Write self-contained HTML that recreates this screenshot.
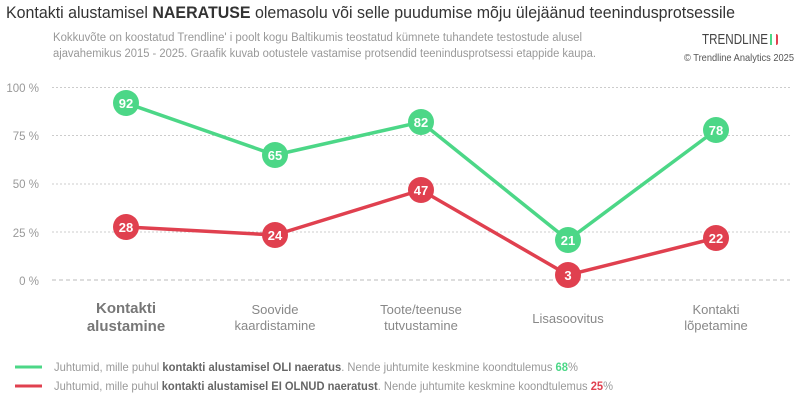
<!DOCTYPE html>
<html><head><meta charset="utf-8"><style>
html,body{margin:0;padding:0;background:#fff;}
svg{display:block;font-family:"Liberation Sans",sans-serif;}
</style></head><body>
<svg width="800" height="401" viewBox="0 0 800 401" xmlns="http://www.w3.org/2000/svg">
<text x="6" y="18" font-size="17" fill="#333" textLength="729" lengthAdjust="spacingAndGlyphs">Kontakti alustamisel <tspan font-weight="bold">NAERATUSE</tspan> olemasolu või selle puudumise mõju ülejäänud teenindusprotsessile</text>
<text x="53" y="41" font-size="11.5" fill="#999" textLength="529" lengthAdjust="spacingAndGlyphs">Kokkuvõte on koostatud Trendline' i poolt kogu Baltikumis teostatud kümnete tuhandete testostude alusel</text>
<text x="53" y="57" font-size="11.5" fill="#999" textLength="543" lengthAdjust="spacingAndGlyphs">ajavahemikus 2015 - 2025. Graafik kuvab ootustele vastamise protsendid teenindusprotsessi etappide kaupa.</text>
<text x="702" y="44" font-size="15" fill="#444" textLength="66" lengthAdjust="spacingAndGlyphs">TRENDLINE</text>
<rect x="770" y="34" width="8" height="11" rx="2" fill="#e0404f"/><rect x="772" y="34" width="4" height="11" fill="#fff"/><rect x="770" y="34" width="2" height="11" fill="#4cd787"/>
<text x="684" y="61" font-size="10.5" fill="#555" textLength="110" lengthAdjust="spacingAndGlyphs">© Trendline Analytics 2025</text>
<g font-size="11.5" fill="#999" text-anchor="end">
<text x="39" y="92">100 %</text><text x="39" y="140">75 %</text><text x="39" y="188">50 %</text><text x="39" y="237">25 %</text><text x="39" y="285">0 %</text>
</g>
<g stroke="#ccc" stroke-width="1" stroke-dasharray="2,2">
<line x1="52" y1="87.5" x2="790" y2="87.5"/><line x1="52" y1="135.5" x2="790" y2="135.5"/><line x1="52" y1="184" x2="790" y2="184"/><line x1="52" y1="232" x2="790" y2="232"/>
</g>
<line x1="52" y1="280" x2="790" y2="280" stroke="#bbb" stroke-dasharray="4,3"/>
<polyline points="126,103 275,155 421,122 568,240 716,130" fill="none" stroke="#4cd787" stroke-width="3.5"/>
<polyline points="126,227 275,235 421,190 568,275 716,238" fill="none" stroke="#e0404f" stroke-width="3.5"/>
<g font-size="13" font-weight="bold" fill="#fff" text-anchor="middle">
<circle cx="126" cy="103" r="13" fill="#4cd787"/><text x="126" y="108">92</text>
<circle cx="275" cy="155" r="13" fill="#4cd787"/><text x="275" y="160">65</text>
<circle cx="421" cy="122" r="13" fill="#4cd787"/><text x="421" y="127">82</text>
<circle cx="568" cy="240" r="13" fill="#4cd787"/><text x="568" y="245">21</text>
<circle cx="716" cy="130" r="13" fill="#4cd787"/><text x="716" y="135">78</text>
<circle cx="126" cy="227" r="13" fill="#e0404f"/><text x="126" y="232">28</text>
<circle cx="275" cy="235" r="13" fill="#e0404f"/><text x="275" y="240">24</text>
<circle cx="421" cy="190" r="13" fill="#e0404f"/><text x="421" y="195">47</text>
<circle cx="568" cy="275" r="13" fill="#e0404f"/><text x="568" y="280">3</text>
<circle cx="716" cy="238" r="13" fill="#e0404f"/><text x="716" y="243">22</text>
</g>
<g text-anchor="middle" fill="#888" font-size="13">
<text x="126" y="313" font-size="15" font-weight="bold" fill="#777">Kontakti</text>
<text x="126" y="331" font-size="15" font-weight="bold" fill="#777">alustamine</text>
<text x="275" y="314">Soovide</text><text x="275" y="330">kaardistamine</text>
<text x="421" y="314">Toote/teenuse</text><text x="421" y="330">tutvustamine</text>
<text x="568" y="323">Lisasoovitus</text>
<text x="716" y="314">Kontakti</text><text x="716" y="330">lõpetamine</text>
</g>
<line x1="15" y1="367" x2="42" y2="367" stroke="#4cd787" stroke-width="3"/>
<line x1="15" y1="386" x2="42" y2="386" stroke="#e0404f" stroke-width="3"/>
<text x="54" y="371" font-size="12" fill="#999" textLength="524" lengthAdjust="spacingAndGlyphs">Juhtumid, mille puhul <tspan font-weight="bold" fill="#666">kontakti alustamisel OLI naeratus</tspan>. Nende juhtumite keskmine koondtulemus <tspan font-weight="bold" fill="#4cd787">68</tspan>%</text>
<text x="54" y="390" font-size="12" fill="#999" textLength="559" lengthAdjust="spacingAndGlyphs">Juhtumid, mille puhul <tspan font-weight="bold" fill="#666">kontakti alustamisel EI OLNUD naeratust</tspan>. Nende juhtumite keskmine koondtulemus <tspan font-weight="bold" fill="#e0404f">25</tspan>%</text>
</svg>
</body></html>
